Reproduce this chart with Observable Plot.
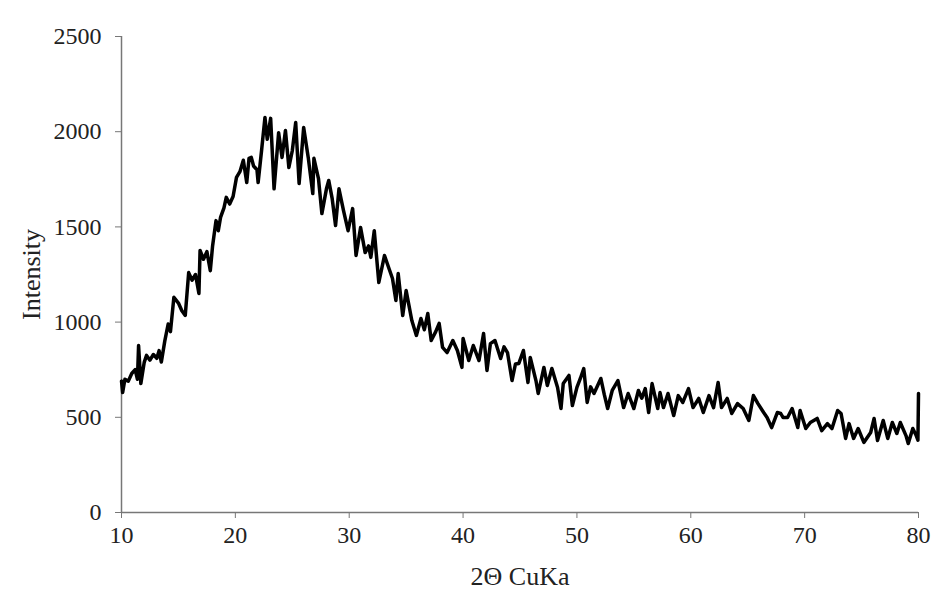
<!DOCTYPE html>
<html><head><meta charset="utf-8">
<script src="https://cdn.jsdelivr.net/npm/d3@7"></script>
<script src="https://cdn.jsdelivr.net/npm/@observablehq/plot@0.6"></script>
<style>
body{margin:0;background:#fff}
g[aria-label="x-axis label"], g[aria-label="y-axis label"]{font-size:26px}
</style>
</head><body><div id="chart"></div>
<script>
const twoTheta = [10.0,10.1,10.3,10.6,10.9,11.2,11.4,11.5,11.7,12.0,12.2,12.5,12.8,13.1,13.3,13.5,13.8,14.1,14.3,14.6,15.0,15.3,15.6,15.9,16.2,16.5,16.8,16.9,17.2,17.5,17.8,18.0,18.3,18.5,18.7,19.0,19.2,19.5,19.8,20.1,20.4,20.7,21.0,21.2,21.4,21.6,21.9,22.0,22.3,22.6,22.8,23.1,23.4,23.8,24.1,24.4,24.7,25.0,25.3,25.6,26.0,26.4,26.8,26.9,27.3,27.6,28.0,28.2,28.5,28.8,29.1,29.5,29.9,30.3,30.6,31.0,31.4,31.7,31.9,32.2,32.6,33.1,33.5,33.8,34.1,34.3,34.7,35.0,35.5,35.9,36.3,36.6,36.9,37.2,37.6,37.9,38.2,38.6,39.1,39.5,39.9,40.0,40.5,40.9,41.4,41.8,42.1,42.4,42.8,43.3,43.6,43.9,44.3,44.6,44.9,45.3,45.7,45.9,46.4,46.6,47.1,47.4,47.8,48.3,48.6,48.8,49.3,49.6,50.0,50.3,50.6,50.9,51.2,51.5,52.1,52.4,52.7,53.1,53.6,54.1,54.5,55.0,55.4,55.7,56.0,56.3,56.6,57.1,57.3,57.6,58.0,58.5,58.9,59.3,59.8,60.2,60.7,61.1,61.6,62.0,62.4,62.7,63.2,63.6,64.1,64.6,65.1,65.5,65.9,66.4,66.7,67.1,67.6,67.9,68.1,68.5,68.9,69.4,69.6,70.1,70.5,71.1,71.5,72.0,72.4,72.9,73.2,73.6,73.9,74.3,74.7,75.2,75.8,76.1,76.4,76.9,77.3,77.7,78.1,78.4,78.9,79.1,79.5,79.8,79.95,80.0];
const intensity = [690,630,700,690,730,750,700,877,677,790,825,800,830,810,850,790,900,990,950,1130,1100,1060,1035,1260,1220,1250,1150,1376,1330,1370,1270,1400,1533,1480,1550,1600,1655,1620,1660,1760,1790,1850,1733,1860,1865,1820,1800,1733,1900,2075,1960,2070,1700,1995,1865,2006,1812,1900,2048,1728,2022,1865,1675,1860,1754,1570,1700,1744,1650,1507,1700,1586,1480,1596,1350,1497,1365,1400,1340,1480,1208,1350,1280,1229,1113,1255,1035,1166,1008,930,1019,960,1045,903,950,993,867,840,903,851,762,914,798,877,798,940,746,887,903,809,870,840,693,780,783,851,683,814,693,625,762,667,756,657,546,678,720,562,657,704,756,578,660,625,704,620,546,641,693,551,625,546,641,600,651,525,677,546,630,551,625,509,614,578,651,551,599,525,614,551,683,551,599,520,572,546,483,614,572,525,499,446,525,520,499,499,546,446,536,441,473,494,430,467,441,536,520,389,467,389,441,368,420,494,378,483,389,473,415,473,404,362,441,404,380,625];
const xTicks = [10,20,30,40,50,60,70,80];
const yTicks = [0,500,1000,1500,2000,2500];
const xLabel = "2Θ CuKa";
const yLabel = "Intensity";

const data = twoTheta.map((x, i) => ({x, y: intensity[i]}));
const chart = Plot.plot({
  width: 939, height: 601,
  marginLeft: 121, marginRight: 21, marginTop: 36, marginBottom: 89,
  style: {fontFamily: "'Liberation Serif', 'Times New Roman', serif", fontSize: "24px", color: "#222", background: "#fff"},
  x: {domain: [10, 80]},
  y: {domain: [0, 2500]},
  marks: [
    Plot.ruleY([0], {stroke: "#777", strokeWidth: 1.5}),
    Plot.ruleX([10], {stroke: "#777", strokeWidth: 1.5}),
    Plot.axisX({ticks: xTicks, tickSize: 6, tickPadding: 7, stroke: "#777", fill: "#222", tickFormat: d => String(d),
      label: xLabel, labelAnchor: "center", labelArrow: "none", labelOffset: 72}),
    Plot.axisY({ticks: yTicks, tickSize: 6, tickPadding: 14, stroke: "#777", fill: "#222", tickFormat: d => String(d),
      label: yLabel, labelAnchor: "center", labelArrow: "none", labelOffset: 100}),
    Plot.line(data, {x: "x", y: "y", stroke: "#000", strokeWidth: 3.5, strokeLinejoin: "round"})
  ]
});
document.getElementById("chart").append(chart);
</script>
</body></html>
